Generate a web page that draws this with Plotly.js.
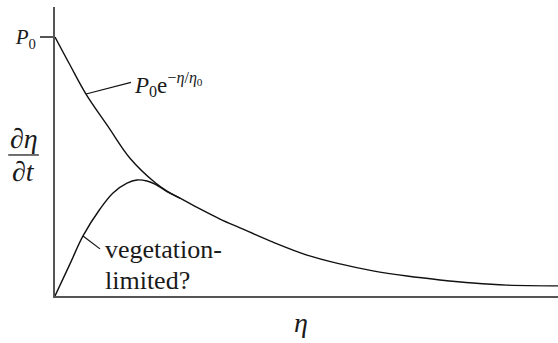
<!DOCTYPE html>
<html>
<head>
<meta charset="utf-8">
<script src="https://cdn.plot.ly/plotly-3.0.1.min.js"></script>
<style>
  html, body { margin: 0; padding: 0; background: #fff; }
  #chart { width: 558px; height: 343px; }
</style>
</head>
<body>
<div id="chart"></div>
<script>
// Erosion rate against height: exponential production curve and a
// vegetation-limited curve that rises, peaks and joins it.
const expEta  = [0, 0.15, 0.31, 0.53, 0.75, 1.00, 1.12, 1.25, 1.45, 1.65, 1.85, 2.18, 2.52, 2.85, 3.18, 3.52, 3.85, 4.18, 4.52, 5.03];
const expRate = [1.0, 0.892, 0.780, 0.655, 0.532, 0.438, 0.405, 0.378, 0.336, 0.297, 0.263, 0.208, 0.158, 0.124, 0.097, 0.077, 0.062, 0.050, 0.042, 0.039];

const vegEta  = [0, 0.15, 0.28, 0.45, 0.58, 0.72, 0.82, 0.92, 1.00, 1.12, 1.25];
const vegRate = [0, 0.124, 0.232, 0.336, 0.398, 0.436, 0.448, 0.444, 0.432, 0.403, 0.378];

const yTickVals = [1];
const yTickText = ['<i>P</i><sub>0</sub>'];

const serif = '"Liberation Serif", "Times New Roman", serif';
const axisColor = '#555';
const textColor = '#1a1a1a';

const traces = [
  { x: expEta, y: expRate, mode: 'lines', line: { color: '#111', width: 1.4, shape: 'spline', smoothing: 1 }, hoverinfo: 'skip' },
  { x: vegEta, y: vegRate, mode: 'lines', line: { color: '#111', width: 1.4, shape: 'spline', smoothing: 1 }, hoverinfo: 'skip' }
];

const layout = {
  width: 558, height: 343,
  margin: { l: 55, r: 0, t: 7, b: 47 },
  paper_bgcolor: '#fff', plot_bgcolor: '#fff',
  showlegend: false,
  xaxis: {
    range: [0, 5.03], showgrid: false, zeroline: false,
    showline: true, linecolor: axisColor, linewidth: 2,
    showticklabels: false, ticks: ''
  },
  yaxis: {
    range: [0, 1.116], showgrid: false, zeroline: false,
    showline: true, linecolor: axisColor, linewidth: 2,
    tickvals: yTickVals, ticktext: yTickText,
    ticks: 'outside', ticklen: 13, tickwidth: 2, tickcolor: axisColor,
    tickfont: { family: serif, size: 21, color: textColor }
  },
  shapes: [
    // leader to the exponential curve
    { type: 'line', xref: 'x', yref: 'y', x0: expEta[2], y0: expRate[2], x1: 0.76, y1: 0.825,
      line: { color: '#111', width: 1.2 } },
    // leader to the vegetation-limited curve
    { type: 'line', xref: 'x', yref: 'y', x0: vegEta[2], y0: vegRate[2], x1: 0.45, y1: 0.182,
      line: { color: '#111', width: 1.2 } },
    // fraction bar of the y label
    { type: 'line', xref: 'paper', yref: 'paper', x0: -0.093, x1: -0.032, y0: 0.488, y1: 0.488,
      line: { color: '#222', width: 1.3 } }
  ],
  annotations: [
    { xref: 'x', yref: 'y', x: 0.77, y: 0.815, xanchor: 'left', yanchor: 'middle', showarrow: false,
      text: '<i>P</i><sub>0</sub>e<sup>−<i>η</i>/<i>η</i><sub>0</sub></sup>',
      font: { family: serif, size: 23, color: textColor } },
    { xref: 'x', yref: 'y', x: 0.48, y: 0.178, xanchor: 'left', yanchor: 'middle', showarrow: false,
      text: 'vegetation-', font: { family: serif, size: 26, color: textColor } },
    { xref: 'x', yref: 'y', x: 0.48, y: 0.059, xanchor: 'left', yanchor: 'middle', showarrow: false,
      text: 'limited?', font: { family: serif, size: 26, color: textColor } },
    { xref: 'paper', yref: 'paper', x: -0.062, y: 0.546, xanchor: 'center', yanchor: 'middle', showarrow: false,
      text: '∂<i>η</i>', font: { family: serif, size: 28, color: textColor } },
    { xref: 'paper', yref: 'paper', x: -0.062, y: 0.432, xanchor: 'center', yanchor: 'middle', showarrow: false,
      text: '∂<i>t</i>', font: { family: serif, size: 28, color: textColor } },
    { xref: 'paper', yref: 'paper', x: 0.489, y: -0.092, xanchor: 'center', yanchor: 'middle', showarrow: false,
      text: '<i>η</i>', font: { family: serif, size: 28, color: textColor } }
  ]
};

Plotly.newPlot('chart', traces, layout, { staticPlot: true, displayModeBar: false });
</script>
</body>
</html>
